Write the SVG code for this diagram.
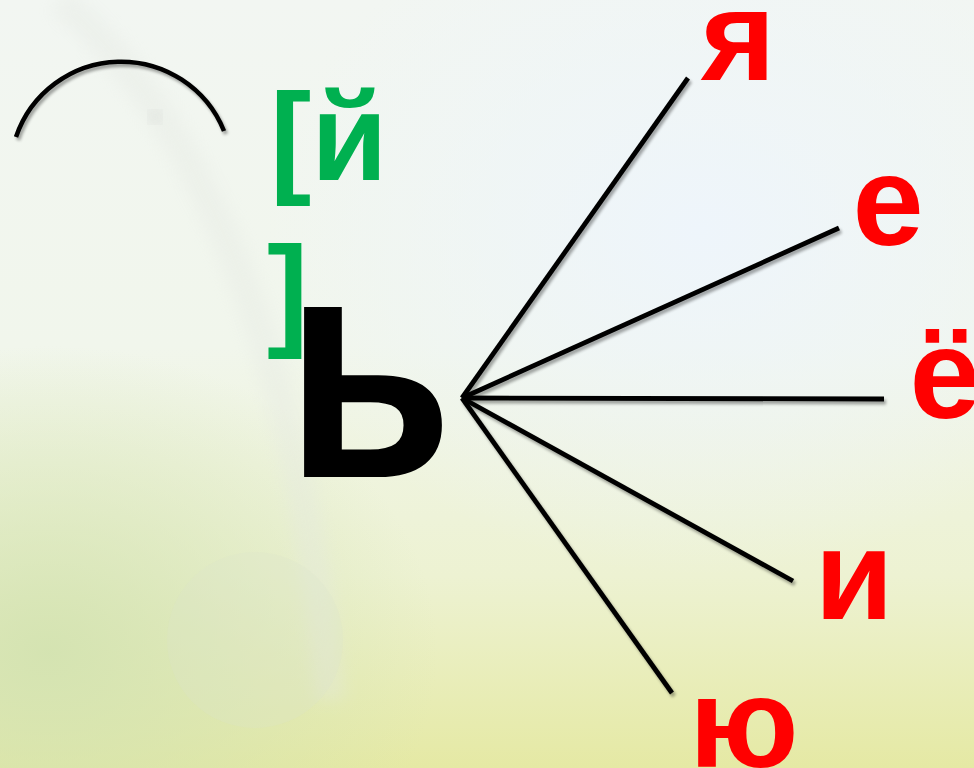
<svg xmlns="http://www.w3.org/2000/svg" width="974" height="768" viewBox="0 0 974 768">
  <defs>
    <linearGradient id="bgV" x1="0" y1="0" x2="0" y2="1">
      <stop offset="0" stop-color="#f2f6f2"/>
      <stop offset="0.45" stop-color="#f1f6ec"/>
      <stop offset="0.75" stop-color="#edf2d2"/>
      <stop offset="1" stop-color="#e5e9a4"/>
    </linearGradient>
    <radialGradient id="blue" cx="0.72" cy="0.3" r="0.45">
      <stop offset="0" stop-color="#eef5fb" stop-opacity="1"/>
      <stop offset="1" stop-color="#eef5fb" stop-opacity="0"/>
    </radialGradient>
    <radialGradient id="greenL" cx="0.05" cy="0.85" r="0.4">
      <stop offset="0" stop-color="#d2e2b0" stop-opacity="0.9"/>
      <stop offset="1" stop-color="#d2e2b0" stop-opacity="0"/>
    </radialGradient>
    <filter id="shadow" x="-10%" y="-10%" width="120%" height="120%">
      <feGaussianBlur in="SourceAlpha" stdDeviation="1.5"/>
      <feOffset dx="1.5" dy="2.5" result="b"/>
      <feComponentTransfer><feFuncA type="linear" slope="0.35"/></feComponentTransfer>
      <feMerge><feMergeNode/><feMergeNode in="SourceGraphic"/></feMerge>
    </filter>
    <filter id="blur8"><feGaussianBlur stdDeviation="8"/></filter>
  </defs>
  <style>
    .ray { stroke: #000; stroke-width: 4.8; stroke-linecap: butt; fill: none; }
    .red { font-family: "Liberation Sans", Arial, sans-serif; font-weight: bold; font-size: 128px; fill: #ff0000; text-anchor: middle; }
    .green { font-family: "Liberation Sans", Arial, sans-serif; font-weight: bold; font-size: 124px; fill: #00b050; }
    .big { font-family: "Liberation Sans", Arial, sans-serif; font-weight: bold; font-size: 322px; fill: #000; }
  </style>

  <!-- background -->
  <rect x="0" y="0" width="974" height="768" fill="url(#bgV)"/>
  <rect x="0" y="0" width="974" height="768" fill="url(#blue)"/>
  <rect x="0" y="0" width="974" height="768" fill="url(#greenL)"/>
  <path d="M60,0 C200,120 300,350 330,700" stroke="#e4e8e2" stroke-width="30" fill="none" opacity="0.35" filter="url(#blur8)"/>
  <circle cx="255" cy="640" r="88" fill="#dde4cc" opacity="0.25"/>
  <circle cx="155" cy="117" r="6" fill="#c8ccc8" opacity="0.7" filter="url(#blur8)"/>

  <g id="connectors" filter="url(#shadow)">
    <line class="ray" x1="462" y1="398" x2="688" y2="78"/>
    <line class="ray" x1="462" y1="398" x2="839" y2="228"/>
    <line class="ray" x1="462" y1="398" x2="884" y2="399"/>
    <line class="ray" x1="462" y1="398" x2="793" y2="581"/>
    <line class="ray" x1="462" y1="398" x2="672" y2="693"/>
  </g>

  <g id="arc" filter="url(#shadow)">
    <path d="M16,137 A111,111 0 0 1 224,131" stroke="#000" stroke-width="4.5" fill="none"/>
  </g>

  <g id="node-j">
    <text class="green" x="270" y="180">[й</text>
    <text class="green" x="267" y="333">]</text>
  </g>

  <g id="node-soft-sign">
    <text class="big" x="0" y="477" transform="matrix(0.85 0 0 1 285 0)">ь</text>
  </g>

  <g id="node-ya"><text class="red" x="738" y="80">я</text></g>
  <g id="node-e"><text class="red" x="888" y="245">е</text></g>
  <g id="node-yo"><text class="red" x="945" y="418">ё</text></g>
  <g id="node-i"><text class="red" x="854" y="619">и</text></g>
  <g id="node-yu"><text class="red" x="744" y="767">ю</text></g>
</svg>
